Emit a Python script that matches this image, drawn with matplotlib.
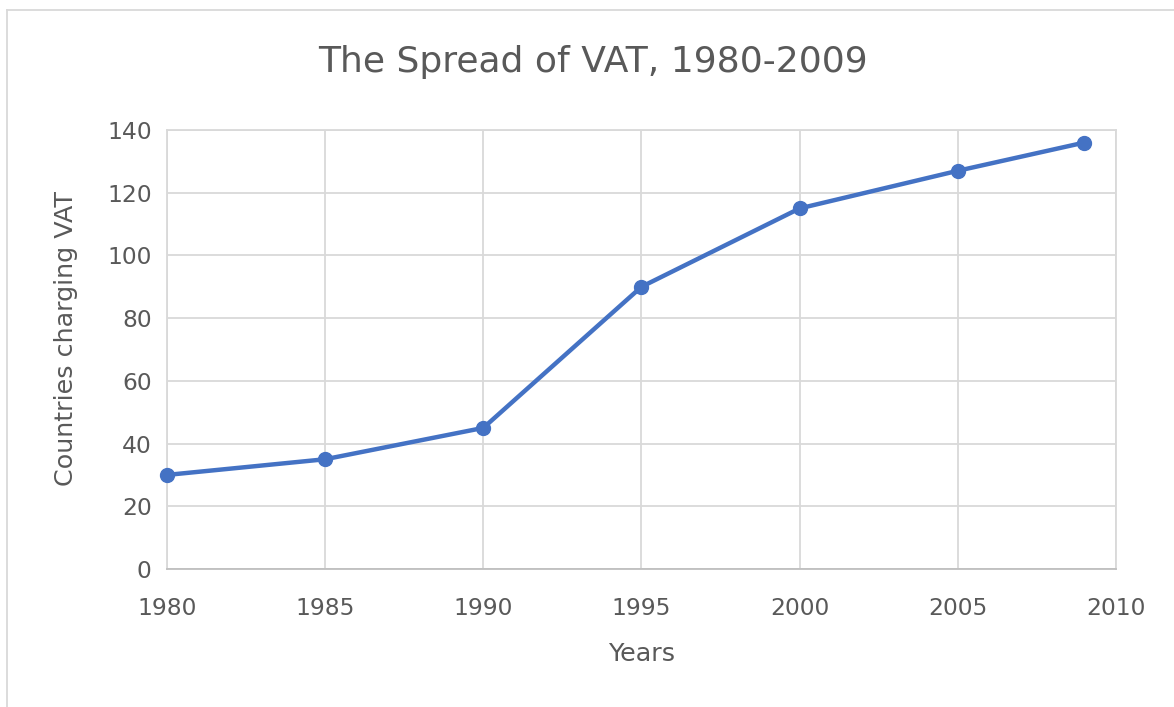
import matplotlib.pyplot as plt
from matplotlib.lines import Line2D

# data
years = [1980, 1985, 1990, 1995, 2000, 2005, 2009]
countries = [30, 35, 45, 90, 115, 127, 136]

x_ticks = [1980, 1985, 1990, 1995, 2000, 2005, 2010]
y_ticks = [0, 20, 40, 60, 80, 100, 120, 140]

text_color = '#595959'
grid_color = '#D9D9D9'
line_color = '#4472C4'

fig = plt.figure(figsize=(11.74, 7.07), dpi=100)
ax = fig.add_axes([0.1422, 0.1952, 0.8084, 0.6209])

ax.plot(years, countries, color=line_color, linewidth=3.2, marker='o',
        markersize=10, zorder=3, clip_on=False)

ax.set_xlim(1980, 2010)
ax.set_ylim(0, 140)
ax.set_xticks(x_ticks)
ax.set_yticks(y_ticks)
ax.grid(True, color=grid_color, linewidth=1.3)
ax.tick_params(length=0, labelsize=16.8, labelcolor=text_color)
ax.tick_params(axis='x', pad=20)
ax.tick_params(axis='y', pad=11)
for s in ax.spines.values():
    s.set_color(grid_color)
    s.set_linewidth(1.3)
ax.spines['bottom'].set_color('#BFBFBF')

ax.set_xlabel("Years", fontsize=18.3, color=text_color, va='center')
ax.xaxis.set_label_coords(0.5, -0.194)
ax.set_ylabel("Countries charging VAT", fontsize=18.3, color=text_color, va='center')
ax.yaxis.set_label_coords(-0.106, 0.526)
fig.text(0.505, 0.912, "The Spread of VAT, 1980-2009", fontsize=26,
         color=text_color, ha='center', va='center')

# outer chart frame (left and top edges visible in the screenshot)
fig.add_artist(Line2D([7 / 1174, 7 / 1174], [0, 1 - 10 / 707], color=grid_color, linewidth=1.3))
fig.add_artist(Line2D([7 / 1174, 1], [1 - 10 / 707, 1 - 10 / 707], color=grid_color, linewidth=1.3))

fig.savefig("out.png", dpi=100)
